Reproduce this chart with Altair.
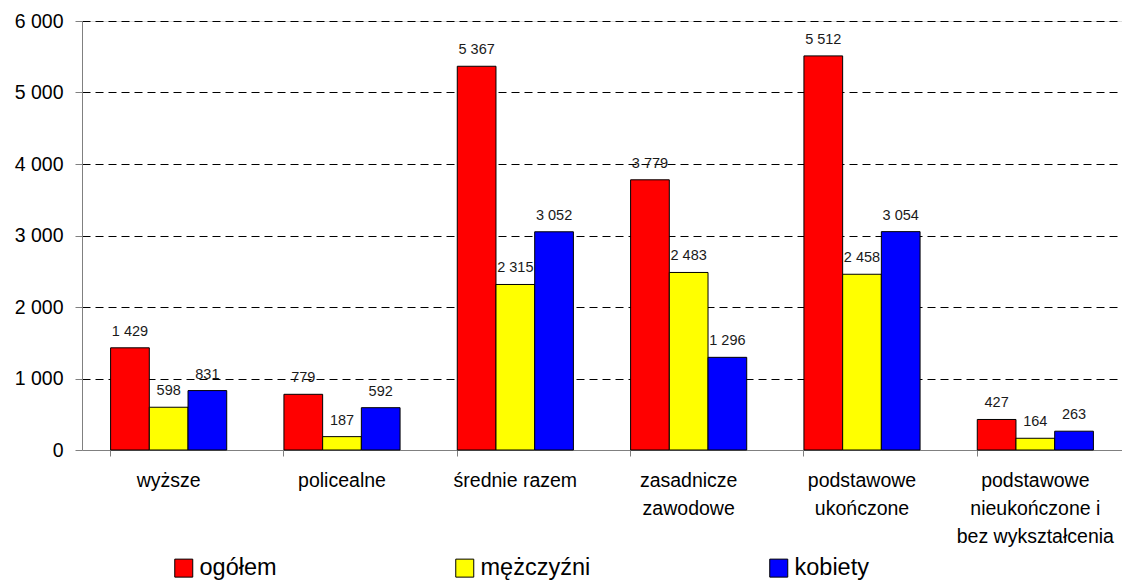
import altair as alt
import pandas as pd

categories = ["wyższe", "policealne", "średnie razem", "zasadnicze|zawodowe",
              "podstawowe|ukończone", "podstawowe|nieukończone i|bez wykształcenia"]
series = ["ogółem", "mężczyźni", "kobiety"]
ogolem = [1429, 779, 5367, 3779, 5512, 427]
mezczyzni = [598, 187, 2315, 2483, 2458, 164]
kobiety = [831, 592, 3052, 1296, 3054, 263]
colors = ["#FF0000", "#FFFF00", "#0000FF"]

rows = []
for i, c in enumerate(categories):
    for s, vals in zip(series, [ogolem, mezczyzni, kobiety]):
        rows.append({"kat": c, "seria": s, "wartosc": vals[i]})
df = pd.DataFrame(rows)

FONT = "Liberation Sans"

x = alt.X("kat:N", sort=categories, title=None,
          scale=alt.Scale(paddingInner=0.33, paddingOuter=0.165),
          axis=alt.Axis(labelExpr="split(datum.value, '|')", labelAngle=0,
                        bandPosition=0, tickSize=6, tickColor="#808080",
                        domainColor="#808080", labelFontSize=19.5,
                        labelFont=FONT, labelColor="black", labelPadding=15,
                        labelLineHeight=28, labelLimit=300, grid=False))
xo = alt.XOffset("seria:N", sort=series)
y = alt.Y("wartosc:Q", title=None,
          scale=alt.Scale(domain=[0, 6000]),
          axis=alt.Axis(values=[0, 1000, 2000, 3000, 4000, 5000, 6000],
                        labelExpr="replace(format(datum.value, ','), ',', ' ')",
                        tickSize=7, tickColor="#808080", domainColor="#808080",
                        labelFontSize=19.5, labelFont=FONT, labelColor="black",
                        labelPadding=12, grid=True, gridColor="black",
                        gridDash=[8, 5], gridWidth=1,
                        gridOpacity=alt.condition("datum.value == 0", alt.value(0), alt.value(1))))

base = alt.Chart(df)

bars = base.mark_bar(stroke="black", strokeWidth=1).encode(
    x=x, xOffset=xo, y=y,
    color=alt.Color("seria:N", sort=series, title=None,
                    scale=alt.Scale(domain=series, range=colors),
                    legend=alt.Legend(orient="none", legendX=90, legendY=535,
                                      direction="horizontal", symbolType="square",
                                      symbolSize=324, symbolStrokeColor="black",
                                      symbolStrokeWidth=1, labelFontSize=23.5,
                                      labelFont=FONT, labelColor="black",
                                      columnPadding=176, labelOffset=4,
                                      padding=0))
)

labels = base.mark_text(baseline="bottom", dy=-9, fontSize=14.5, font=FONT,
                        color="#1a1a1a").encode(
    x=x, xOffset=xo, y=y,
    text=alt.Text("lbl:N")
).transform_calculate(lbl="replace(format(datum.wartosc, ','), ',', ' ')")

chart = alt.layer(bars, labels).properties(
    width=1040, height=429,
    padding={"left": 74, "top": 13, "right": 0, "bottom": 131},
    autosize=alt.AutoSizeParams(type="none"),
).configure_view(stroke=None).configure(background="white")

chart.save("out.html", embed_options={"renderer": "svg", "actions": False})
